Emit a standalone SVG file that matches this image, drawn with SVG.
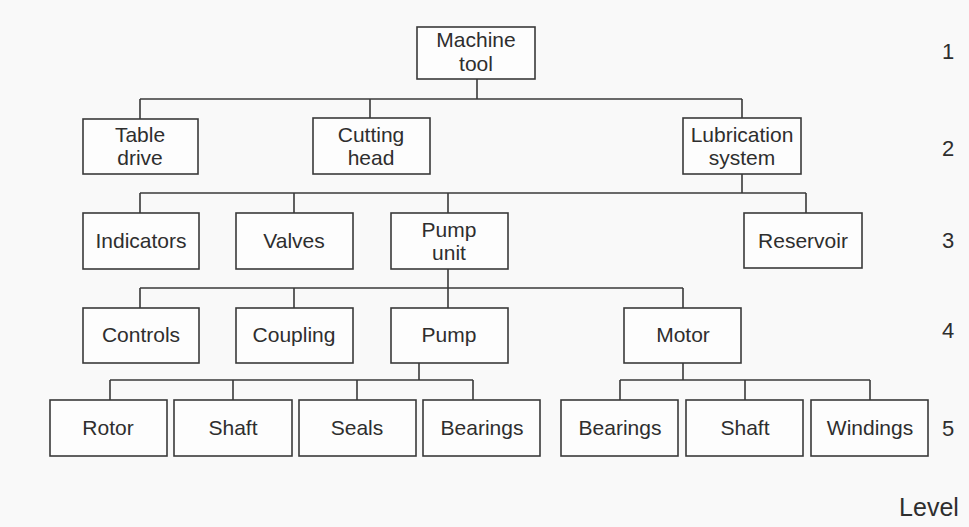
<svg xmlns="http://www.w3.org/2000/svg" width="969" height="527" viewBox="0 0 969 527">
<style>
.b{fill:#fdfdfd;stroke:#3a3a3a;stroke-width:1.6}
.t{font-family:"Liberation Sans",Arial,sans-serif;font-size:21px;fill:#2e2e2e;text-anchor:middle}
.l{font-family:"Liberation Sans",Arial,sans-serif;font-size:22px;fill:#2e2e2e;text-anchor:middle}
.c{fill:none;stroke:#3a3a3a;stroke-width:1.6}
</style>
<rect width="969" height="527" fill="#f9f9f9"/>
<g id="connectors" class="c">
<path d="M477 79V99M140 99H742M140 99V119M370 99V118M742 99V118"/>
<path d="M742 174V193M140 193H806M140 193V213M294 193V213M448 193V213M806 193V213"/>
<path d="M448 269V308M140 288H683M140 288V308M294 288V308M683 288V308"/>
<path d="M419 363V380M110 380H473M110 380V400M233 380V400M357 380V400M473 380V400"/>
<path d="M683 363V380M620 380H870M620 380V400M745 380V400M870 380V400"/>
</g>
<g id="machine-tool"><rect class="b" x="417" y="27" width="118" height="52"/><text class="t" x="476" y="47">Machine</text><text class="t" x="476" y="71">tool</text></g>
<g id="table-drive"><rect class="b" x="83" y="119" width="115" height="55"/><text class="t" x="140" y="142">Table</text><text class="t" x="140" y="165">drive</text></g>
<g id="cutting-head"><rect class="b" x="313" y="118" width="117" height="56"/><text class="t" x="371" y="142">Cutting</text><text class="t" x="371" y="165">head</text></g>
<g id="lubrication-system"><rect class="b" x="683" y="118" width="118" height="56"/><text class="t" x="742" y="142">Lubrication</text><text class="t" x="742" y="165">system</text></g>
<g id="indicators"><rect class="b" x="83" y="213" width="116" height="56"/><text class="t" x="141" y="248">Indicators</text></g>
<g id="valves"><rect class="b" x="236" y="213" width="117" height="56"/><text class="t" x="294" y="248">Valves</text></g>
<g id="pump-unit"><rect class="b" x="391" y="213" width="117" height="56"/><text class="t" x="449" y="237">Pump</text><text class="t" x="449" y="260">unit</text></g>
<g id="reservoir"><rect class="b" x="744" y="213" width="118" height="55"/><text class="t" x="803" y="248">Reservoir</text></g>
<g id="controls"><rect class="b" x="83" y="308" width="116" height="55"/><text class="t" x="141" y="342">Controls</text></g>
<g id="coupling"><rect class="b" x="236" y="308" width="117" height="55"/><text class="t" x="294" y="342">Coupling</text></g>
<g id="pump"><rect class="b" x="391" y="308" width="117" height="55"/><text class="t" x="449" y="342">Pump</text></g>
<g id="motor"><rect class="b" x="624" y="308" width="117" height="55"/><text class="t" x="683" y="342">Motor</text></g>
<g id="rotor"><rect class="b" x="50" y="400" width="117" height="56"/><text class="t" x="108" y="435">Rotor</text></g>
<g id="shaft-pump"><rect class="b" x="174" y="400" width="118" height="56"/><text class="t" x="233" y="435">Shaft</text></g>
<g id="seals"><rect class="b" x="299" y="400" width="117" height="56"/><text class="t" x="357" y="435">Seals</text></g>
<g id="bearings-pump"><rect class="b" x="423" y="400" width="117" height="56"/><text class="t" x="482" y="435">Bearings</text></g>
<g id="bearings-motor"><rect class="b" x="561" y="400" width="117" height="56"/><text class="t" x="620" y="435">Bearings</text></g>
<g id="shaft-motor"><rect class="b" x="686" y="400" width="117" height="56"/><text class="t" x="745" y="435">Shaft</text></g>
<g id="windings"><rect class="b" x="811" y="400" width="117" height="56"/><text class="t" x="870" y="435">Windings</text></g>
<g id="levels">
<text class="l" x="948" y="59">1</text>
<text class="l" x="948" y="156">2</text>
<text class="l" x="948" y="248">3</text>
<text class="l" x="948" y="338">4</text>
<text class="l" x="948" y="436">5</text>
<text class="l" x="929" y="516" style="font-size:25px">Level</text>
</g>
</svg>
